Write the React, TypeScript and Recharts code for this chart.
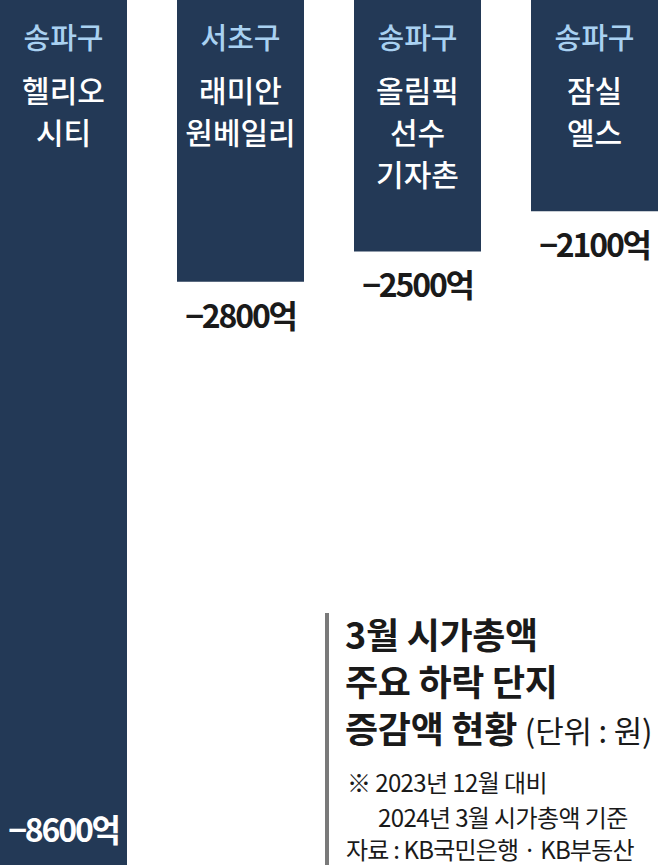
import React from 'react';
import { BarChart, Bar, XAxis, YAxis, LabelList } from 'recharts';

// 3월 시가총액 주요 하락 단지 증감액 (억원)
const districts = ['송파구', '서초구', '송파구', '송파구'];
const complexes = [['헬리오', '시티'], ['래미안', '원베일리'], ['올림픽', '선수', '기자촌'], ['잠실', '엘스']];
const changes = [-8600, -2800, -2500, -2100];

const data = changes.map((v, i) => ({ name: complexes[i].join(' '), district: districts[i], lines: complexes[i], value: v }));

const FONT = '"Noto Sans CJK KR", "Noto Sans", sans-serif';
const NAVY = '#233956';
const CHART_H = 865;

// negative bars come with a negative height, so sort out top / bottom first
const edges = (y: number, height: number) => ({ top: Math.min(y, y + height), bottom: Math.max(y, y + height) });

const NameLabel = (props: any) => {
  const { x, y, width, height, index } = props;
  const d = data[index];
  const cx = x + width / 2;
  const { top } = edges(y, height);
  return (
    <g fontFamily={FONT} textAnchor="middle">
      <text x={cx} y={top + 36} dominantBaseline="central" fill="#a9d1f1" fontSize={29} fontWeight={500}>
        {d.district}
      </text>
      {d.lines.map((line, i) => (
        <text key={i} x={cx} y={top + 89 + i * 42} dominantBaseline="central" fill="#ffffff" fontSize={30} fontWeight={500}>
          {line}
        </text>
      ))}
    </g>
  );
};

const ValueLabel = (props: any) => {
  const { x, y, width, height, value } = props;
  const { bottom } = edges(y, height);
  const inside = bottom + 40 > CHART_H;
  const ly = inside ? bottom - 37 : bottom + 32;
  return (
    <text
      x={x + width / 2}
      y={ly}
      dominantBaseline="central"
      textAnchor="middle"
      fontFamily={FONT}
      fontSize={32}
      fontWeight={700}
      letterSpacing={-2.2}
      fill={inside ? '#ffffff' : '#1a1a1a'}
    >
      {`−${Math.abs(value)}억`}
    </text>
  );
};

export default function App() {
  return (
    <div style={{ position: 'relative', width: 658, height: 865, overflow: 'hidden', background: '#fff', fontFamily: FONT }}>
      <style>{'body{margin:0;}'}</style>
      <div style={{ position: 'absolute', left: -25, top: 0 }}>
        <BarChart width={708} height={CHART_H} data={data} margin={{ top: 0, right: 0, left: 0, bottom: 0 }}>
          <XAxis dataKey="name" hide />
          <YAxis domain={[-8600, 0]} hide />
          <Bar dataKey="value" fill={NAVY} barSize={127} isAnimationActive={false}>
            <LabelList dataKey="value" content={<NameLabel />} />
            <LabelList dataKey="value" content={<ValueLabel />} />
          </Bar>
        </BarChart>
      </div>

      {/* Title block */}
      <div style={{ position: 'absolute', left: 325, top: 613, width: 4, height: 252, background: '#7a7a7a' }} />
      <div style={{ position: 'absolute', left: 345, top: 610, color: '#1a1a1a', whiteSpace: 'nowrap' }}>
        <div style={{ fontSize: 36, fontWeight: 700, lineHeight: '47px', letterSpacing: -0.3 }}>3월 시가총액</div>
        <div style={{ fontSize: 36, fontWeight: 700, lineHeight: '47px', letterSpacing: -0.3 }}>주요 하락 단지</div>
        <div style={{ fontSize: 36, fontWeight: 700, lineHeight: '47px', letterSpacing: -0.3 }}>
          증감액 현황 <span style={{ fontSize: 31, fontWeight: 400, letterSpacing: -0.2 }}>(단위 : 원)</span>
        </div>
      </div>
      <div style={{ position: 'absolute', left: 347, top: 764, fontSize: 24, lineHeight: '35px', color: '#1a1a1a', whiteSpace: 'nowrap', letterSpacing: -0.6 }}>
        <div>※ 2023년 12월 대비</div>
        <div style={{ paddingLeft: 31 }}>2024년 3월 시가총액 기준</div>
      </div>
      <div style={{ position: 'absolute', left: 346, top: 831, fontSize: 24, lineHeight: '36px', color: '#1a1a1a', whiteSpace: 'nowrap', letterSpacing: -0.8 }}>
        자료 : KB국민은행 · KB부동산
      </div>
    </div>
  );
}
